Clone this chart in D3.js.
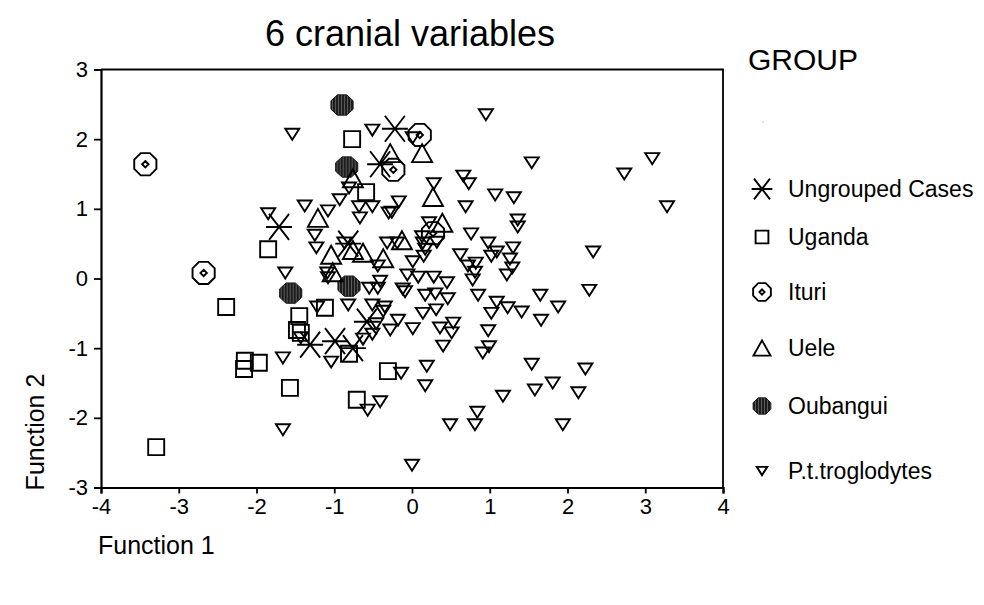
<!DOCTYPE html>
<html>
<head>
<meta charset="utf-8">
<script src="https://cdn.jsdelivr.net/npm/d3@7"></script>
<style>
  body { margin: 0; background: #fff; }
  text { font-family: "Liberation Sans", Arial, sans-serif; fill: #000; }
</style>
</head>
<body>
<div id="chart"></div>
<script>
// data: [Function 1, Function 2]
var ungrouped = [[-0.22, 2.15], [-0.41, 1.64], [-1.71, 0.74], [-0.82, 0.50], [-1.31, -0.95],
  [-0.99, -0.90], [-0.76, -1.00], [-0.58, -0.62]];

var uganda = [[-0.77, 2.00], [-0.59, 1.24], [-1.85, 0.42], [-2.39, -0.41], [-1.45, -0.54],
  [-1.12, -0.42], [-1.48, -0.74], [-1.43, -0.78], [-0.81, -1.08], [-2.15, -1.18],
  [-2.16, -1.30], [-1.97, -1.21], [-1.57, -1.57], [-0.71, -1.74], [-0.31, -1.33], [-3.29, -2.42]];

var ituri = [[-3.43, 1.64], [-2.68, 0.08], [0.10, 2.06], [-0.24, 1.56], [0.27, 0.65]];

var uele = [[0.13, 1.80], [-0.28, 1.80], [-0.76, 1.44], [0.27, 1.17], [-1.21, 0.87], [-1.04, 0.34],
  [-0.63, 0.37], [-0.76, 0.41], [-0.37, 0.29], [-0.13, 0.55], [-1.02, 0.09], [0.39, 0.80]];

var oubangui = [[-0.90, 2.49], [-0.84, 1.60], [-1.56, -0.21], [-0.81, -0.11]];

var troglodytes = [[-1.54, 2.07], [-0.51, 2.13], [-0.81, 1.30], [-0.93, 1.13], [-1.38, 1.04],
  [-1.08, 0.97], [-0.68, 1.03], [-0.51, 1.03], [-0.67, 0.87], [-0.30, 0.94], [-0.26, 0.95],
  [-0.17, 1.10], [-1.85, 0.93], [-1.25, 0.62], [-1.23, 0.44], [-0.87, 0.51], [-0.32, 0.51],
  [-0.19, 0.51], [-0.44, 0.18], [-1.63, 0.08], [-1.09, 0.08], [-1.08, 0.01], [-0.06, 0.05],
  [0.08, 0.02], [-0.41, -0.04], [-0.55, -0.14], [-0.44, -0.14], [-0.12, -0.15], [0.01, 0.24],
  [0.13, 0.60], [0.14, 0.51], [0.17, 0.42], [0.22, 0.80], [0.95, 2.35], [1.54, 1.66],
  [2.73, 1.50], [3.09, 1.72], [3.28, 1.03], [0.66, 1.47], [0.73, 1.36], [0.28, 1.36],
  [0.01, 2.02], [1.07, 1.20], [1.31, 1.16], [0.69, 1.03], [1.36, 0.84], [1.36, 0.74],
  [0.76, 0.64], [0.98, 0.51], [1.09, 0.38], [1.30, 0.44], [1.26, 0.28], [1.29, 0.15],
  [0.62, 0.34], [1.02, 0.32], [0.32, 0.52], [0.15, 0.32], [0.72, 0.18], [0.82, 0.22],
  [0.81, 0.09], [0.78, -0.02], [0.28, 0.02], [0.45, -0.06], [1.22, 0.05], [2.33, 0.38],
  [-0.09, -0.19], [0.17, -0.24], [0.30, -0.22], [0.46, -0.29], [0.85, -0.24], [1.09, -0.34],
  [1.23, -0.42], [1.41, -0.48], [1.65, -0.24], [2.28, -0.17], [1.88, -0.41], [1.66, -0.60],
  [0.01, -0.72], [0.14, -0.50], [0.31, -0.45], [0.36, -0.71], [0.53, -0.64], [0.51, -0.78],
  [0.98, -0.75], [1.02, -0.50], [0.40, -0.97], [0.99, -0.98], [0.91, -1.07], [-0.14, -1.36],
  [0.19, -1.26], [0.17, -1.54], [1.54, -1.23], [2.23, -1.30], [1.81, -1.50], [1.58, -1.60],
  [1.17, -1.69], [2.14, -1.64], [0.84, -1.92], [0.49, -2.10], [0.81, -2.10], [1.94, -2.10],
  [0.00, -2.68], [-1.22, -0.41], [-0.82, -0.38], [-0.51, -0.38], [-0.35, -0.41], [-0.37, -0.47],
  [-0.18, -0.60], [-0.28, -0.74], [-0.46, -0.65], [-0.51, -0.80], [-0.63, -0.87], [-1.43, -0.85],
  [-1.66, -1.14], [-1.04, -1.20], [-0.41, -1.77], [-0.57, -1.89], [-1.66, -2.17]];

var groupNames = ["Ungrouped Cases", "Uganda", "Ituri", "Uele", "Oubangui", "P.t.troglodytes"];
var xTicks = [-4, -3, -2, -1, 0, 1, 2, 3, 4];
var yTicks = [-3, -2, -1, 0, 1, 2, 3];

var width = 984, height = 605;

var svg = d3.select("#chart")
  .append("svg")
  .attr("width", width)
  .attr("height", height);

// hatch fill for the Oubangui markers
svg.append("defs").append("pattern")
  .attr("id", "hatch")
  .attr("patternUnits", "userSpaceOnUse")
  .attr("width", 3).attr("height", 3)
  .call(function(p) {
    p.append("rect").attr("width", 3).attr("height", 3).attr("fill", "#1c1c1c");
    p.append("rect").attr("x", 2).attr("width", 1).attr("height", 3).attr("fill", "#5a5a5a");
  });

var x = d3.scaleLinear().domain([-4, 4]).range([101, 723]);
var y = d3.scaleLinear().domain([-3, 3]).range([487.5, 69.5]);

// marker shapes, centred on 0,0
function octagon(rx, ry) {
  var pts = d3.range(8).map(function(i) {
    var a = Math.PI / 8 + i * Math.PI / 4;
    return [rx * Math.cos(a), ry * Math.sin(a)];
  });
  return "M" + pts.join("L") + "Z";
}
var shapes = {
  ungrouped: function(s) {
    var h = 13 * s, dx = 10 * s, dy = 13 * s;
    return "M" + (-h) + ",0L" + h + ",0M" + (-dx) + "," + (-dy) + "L" + dx + "," + dy +
      "M" + (-dx) + "," + dy + "L" + dx + "," + (-dy);
  },
  uganda: function(s) {
    var h = 8 * s;
    return "M" + (-h) + "," + (-h) + "H" + h + "V" + h + "H" + (-h) + "Z";
  },
  ituri: function(s) {
    var d = 3.2 * s;
    return octagon(12 * s, 12 * s) + "M0," + (-d) + "L" + d + ",0L0," + d + "L" + (-d) + ",0Z";
  },
  uele: function(s) {
    var w = 10 * s, h = 9 * s;
    return "M0," + (-h) + "L" + w + "," + h + "L" + (-w) + "," + h + "Z";
  },
  oubangui: function(s) {
    return octagon(12 * s, 11 * s);
  },
  troglodytes: function(s) {
    var w = 7 * s, h = 5.5 * s;
    return "M" + (-w) + "," + (-h) + "L" + w + "," + (-h) + "L0," + h + "Z";
  }
};
var keys = ["ungrouped", "uganda", "ituri", "uele", "oubangui", "troglodytes"];
var groups = {ungrouped: ungrouped, uganda: uganda, ituri: ituri, uele: uele,
  oubangui: oubangui, troglodytes: troglodytes};

function styleMarker(sel, key) {
  if (key == "oubangui") {
    sel.attr("fill", "url(#hatch)").attr("stroke", "#1c1c1c").attr("stroke-width", 1);
  } else {
    sel.attr("fill", "none").attr("stroke", "#000").attr("stroke-width", 1.9);
  }
}

// Title
svg.append("text")
  .attr("x", 410).attr("y", 46)
  .attr("text-anchor", "middle")
  .style("font-size", "36px")
  .text("6 cranial variables");

// Axes
var gx = svg.append("g")
  .attr("transform", "translate(0,487.5)")
  .call(d3.axisBottom(x).tickValues(xTicks).tickSize(6).tickPadding(5)
    .tickFormat(function(d) { return String(d); }));
var gy = svg.append("g")
  .attr("transform", "translate(101,0)")
  .call(d3.axisLeft(y).tickValues(yTicks).tickSize(7).tickPadding(6)
    .tickFormat(function(d) { return String(d); }));
[gx, gy].forEach(function(g) {
  g.select(".domain").attr("stroke-width", 2.2);
  g.selectAll(".tick line").attr("stroke-width", 1.8);
  g.selectAll(".tick text").style("font-size", "22px").attr("font-family", null);
});

// right and top borders of the frame
svg.append("path")
  .attr("d", "M" + x(-4) + "," + y(3) + "H" + x(4) + "V" + y(-3))
  .attr("fill", "none").attr("stroke", "#000").attr("stroke-width", 1.8);

// Axis titles
svg.append("text")
  .attr("transform", "translate(44,432)rotate(-90)")
  .attr("text-anchor", "middle")
  .style("font-size", "25px")
  .text("Function 2");
svg.append("text")
  .attr("x", 98).attr("y", 554)
  .style("font-size", "25px")
  .text("Function 1");

// Points, filled markers first so outlines stay visible
["oubangui", "ungrouped", "uganda", "ituri", "uele", "troglodytes"].forEach(function(key) {
  svg.append("g")
    .selectAll("path")
    .data(groups[key])
    .enter()
    .append("path")
    .attr("transform", function(d) { return "translate(" + x(d[0]) + "," + y(d[1]) + ")"; })
    .attr("d", shapes[key](1))
    .call(styleMarker, key);
});

// Legend
svg.append("text")
  .attr("x", 748).attr("y", 70)
  .style("font-size", "30px")
  .text("GROUP");
svg.append("circle")
  .attr("cx", 763).attr("cy", 122).attr("r", 0.8).attr("fill", "#bbb");

var legendY = [189, 237, 292, 348, 406, 471];
var legendScale = [0.8, 0.8, 0.8, 0.85, 0.8, 0.75];
var legend = svg.append("g")
  .selectAll("g")
  .data(keys)
  .enter()
  .append("g")
  .attr("transform", function(d, i) { return "translate(762," + legendY[i] + ")"; });

legend.append("path")
  .attr("d", function(d, i) { return shapes[d](legendScale[i]); })
  .each(function(d) { d3.select(this).call(styleMarker, d); });

legend.append("text")
  .attr("x", 26).attr("dy", "0.36em")
  .style("font-size", "23px")
  .text(function(d, i) { return groupNames[i]; });
</script>
</body>
</html>
